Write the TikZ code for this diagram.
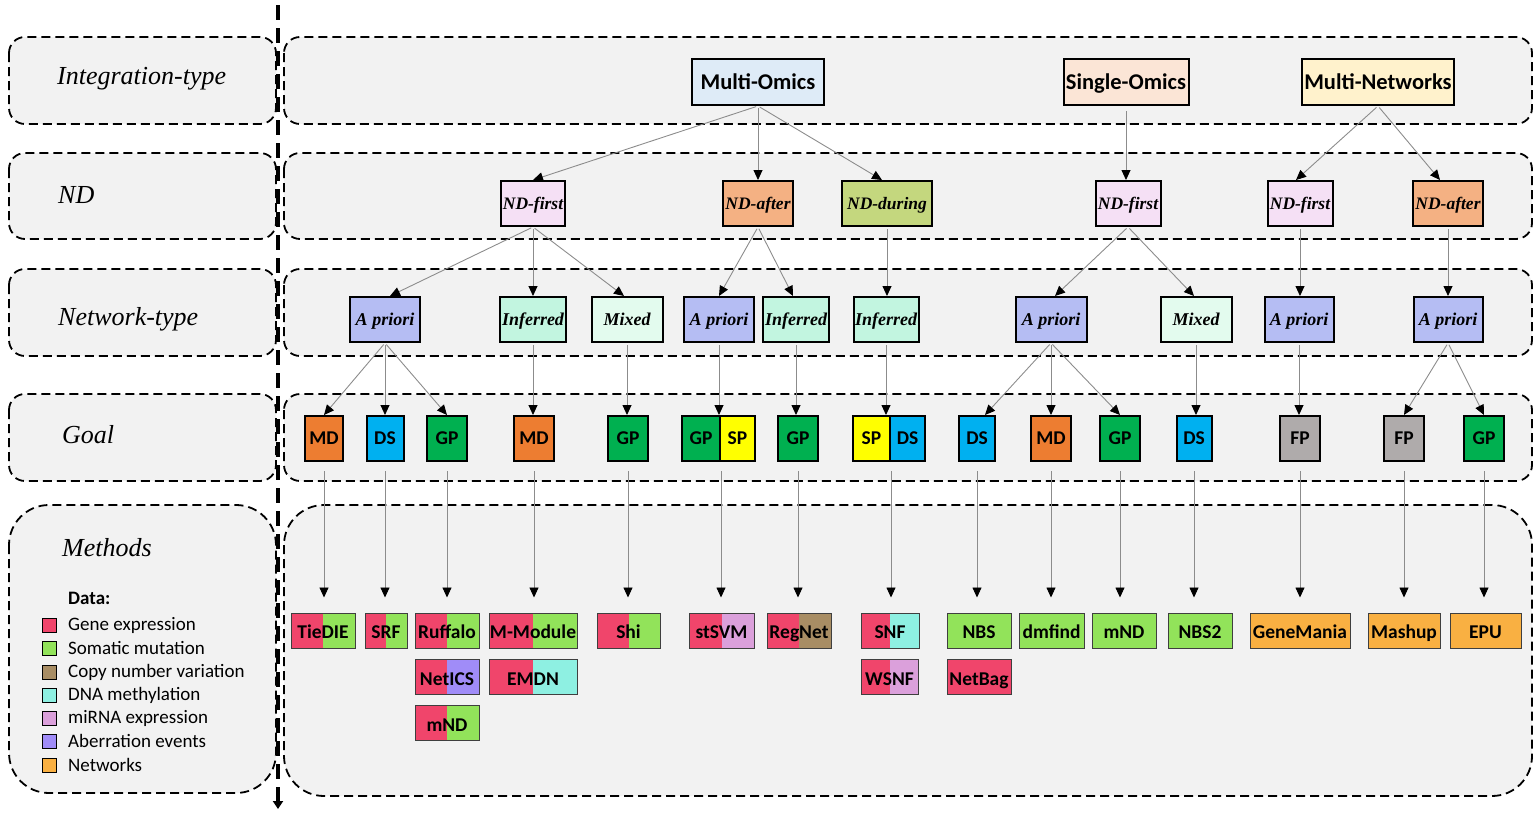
\documentclass[tikz,border=0pt]{standalone}
\usepackage{fontspec}
\newfontfamily\carlito{Carlito}
\newfontfamily\tnr{Liberation Serif}
\usetikzlibrary{arrows.meta}
\definecolor{bandgray}{HTML}{F2F2F2}
\definecolor{cMO}{HTML}{DEEBF7}
\definecolor{cSO}{HTML}{FBE5D6}
\definecolor{cMN}{HTML}{FFF2CC}
\definecolor{cNDf}{HTML}{F5E0F5}
\definecolor{cNDa}{HTML}{F4B183}
\definecolor{cNDd}{HTML}{C4D77E}
\definecolor{cApr}{HTML}{B5BDF3}
\definecolor{cInf}{HTML}{C2F5E0}
\definecolor{cMix}{HTML}{E3FBEE}
\definecolor{cMD}{HTML}{ED7D31}
\definecolor{cDS}{HTML}{00B0F0}
\definecolor{cGP}{HTML}{00B050}
\definecolor{cSP}{HTML}{FFFF00}
\definecolor{cFP}{HTML}{AFABAB}
\definecolor{cRed}{HTML}{F0456B}
\definecolor{cGrn}{HTML}{92E35A}
\definecolor{cBrn}{HTML}{A88D64}
\definecolor{cCyn}{HTML}{8EF0E2}
\definecolor{cPnk}{HTML}{DBA0DB}
\definecolor{cPur}{HTML}{A08CF8}
\definecolor{cOrg}{HTML}{F9B042}
\definecolor{cLine}{HTML}{8C8C8C}
\definecolor{cMB}{HTML}{3F3F3F}
\begin{document}
\begin{tikzpicture}[x=1pt,y=-1pt,
  band/.style={draw=black, dash pattern=on 9pt off 5pt, line width=1.8pt, fill=bandgray, rounded corners=16pt},
  bigband/.style={band, rounded corners=40pt},
  rowlab/.style={anchor=west, inner sep=0pt, font=\tnr\itshape\fontsize{26}{29}\selectfont},
  itype/.style={draw=black, line width=2pt, minimum height=46pt, inner sep=0pt, text height=14.4pt, text depth=0pt, font=\carlito\bfseries\fontsize{22.5}{26}\selectfont},
  ndbox/.style={draw=black, line width=2pt, minimum height=45pt, inner sep=0pt, text height=11.6pt, text depth=0pt, font=\tnr\bfseries\itshape\fontsize{17.5}{20}\selectfont},
  netbox/.style={draw=black, line width=2pt, minimum height=45pt, inner sep=0pt, text height=11.8pt, text depth=0pt, font=\tnr\bfseries\itshape\fontsize{18}{20}\selectfont},
  goalbox/.style={draw=black, line width=2pt, minimum height=45pt, inner sep=0pt, text height=12.6pt, text depth=0pt, font=\carlito\bfseries\fontsize{19.5}{22}\selectfont},
  meth/.style={draw=cMB, line width=1pt, minimum height=35pt, inner sep=0pt, text height=16pt, text depth=0pt, font=\carlito\bfseries\fontsize{19.5}{22}\selectfont},
  split/.style={meth, fill=#1, path picture={\fill[cRed] (path picture bounding box.south west) rectangle (path picture bounding box.north);}},
  legsq/.style={draw=black, line width=1pt, minimum size=14pt, inner sep=0pt},
  legtxt/.style={anchor=west, inner sep=0pt, font=\carlito\fontsize{19}{22}\selectfont},
  conn/.style={draw=cLine, line width=0.9pt, shorten <=2pt, -{Triangle[length=10pt,width=9pt,color=black]}},
  down/.style={conn, shorten <=9pt, shorten >=15pt}
]
\useasboundingbox (0,0) rectangle (1535,819);

% bands
\path[band] (9,37) rectangle (276,124);
\path[band] (284,37) rectangle (1532,124);
\path[band] (9,153) rectangle (276,239);
\path[band] (284,153) rectangle (1532,239);
\path[band] (9,269) rectangle (276,356);
\path[band] (284,269) rectangle (1532,356);
\path[band] (9,394) rectangle (276,481);
\path[band] (284,394) rectangle (1532,481);
\path[bigband] (9,505) rectangle (276,793);
\path[bigband] (284,505) rectangle (1532,796);

% vertical axis
\coordinate (vtop) at (278,5);
\coordinate (vbot) at (278,809);
\draw[line width=3.5pt, dash pattern=on 15pt off 8pt, -{Triangle[length=8pt,width=10pt]}] (vtop) -- (vbot);

% row labels
\node[rowlab] (l1) at (57,79) {Integration-type};
\node[rowlab] (l2) at (58,195) {ND};
\node[rowlab] (l3) at (58,319) {Network-type};
\node[rowlab] (l4) at (62,435) {Goal};
\node[rowlab] (l5) at (62,548) {Methods};

% legend
\node[legtxt, font=\carlito\bfseries\fontsize{19}{22}\selectfont] (dh) at (68,598) {Data:};
\node[legsq, fill=cRed] (s1) at (49,625) {};
\node[legtxt] (t1) at (68,625) {Gene expression};
\node[legsq, fill=cGrn] (s2) at (49,648) {};
\node[legtxt] (t2) at (68,648) {Somatic mutation};
\node[legsq, fill=cBrn] (s3) at (49,672) {};
\node[legtxt] (t3) at (68,672) {Copy number variation};
\node[legsq, fill=cCyn] (s4) at (49,695) {};
\node[legtxt] (t4) at (68,695) {DNA methylation};
\node[legsq, fill=cPnk] (s5) at (49,718) {};
\node[legtxt] (t5) at (68,718) {miRNA expression};
\node[legsq, fill=cPur] (s6) at (49,741) {};
\node[legtxt] (t6) at (68,741) {Aberration events};
\node[legsq, fill=cOrg] (s7) at (49,765) {};
\node[legtxt] (t7) at (68,765) {Networks};

% integration type
\node[itype, fill=cMO, minimum width=132pt] (mo) at (758,82) {Multi-Omics};
\node[itype, fill=cSO, minimum width=125pt] (so) at (1126,82) {Single-Omics};
\node[itype, fill=cMN, minimum width=152pt] (mn) at (1378,82) {Multi-Networks};

% ND
\node[ndbox, fill=cNDf, minimum width=64pt] (nd1) at (533,203.5) {ND-first};
\node[ndbox, fill=cNDa, minimum width=70pt] (nd2) at (758,203.5) {ND-after};
\node[ndbox, fill=cNDd, minimum width=90pt] (nd3) at (887,203.5) {ND-during};
\node[ndbox, fill=cNDf, minimum width=65pt] (nd4) at (1128,203.5) {ND-first};
\node[ndbox, fill=cNDf, minimum width=65pt] (nd5) at (1300,203.5) {ND-first};
\node[ndbox, fill=cNDa, minimum width=70pt] (nd6) at (1448,203.5) {ND-after};

% network type
\node[netbox, fill=cApr, minimum width=70pt] (n1) at (385,319.5) {A priori};
\node[netbox, fill=cInf, minimum width=66pt] (n2) at (533,319.5) {Inferred};
\node[netbox, fill=cMix, minimum width=71pt] (n3) at (627,319.5) {Mixed};
\node[netbox, fill=cApr, minimum width=70pt] (n4) at (719,319.5) {A priori};
\node[netbox, fill=cInf, minimum width=66pt] (n5) at (796,319.5) {Inferred};
\node[netbox, fill=cInf, minimum width=65pt] (n6) at (886,319.5) {Inferred};
\node[netbox, fill=cApr, minimum width=71pt] (n7) at (1051,319.5) {A priori};
\node[netbox, fill=cMix, minimum width=71pt] (n8) at (1196,319.5) {Mixed};
\node[netbox, fill=cApr, minimum width=69pt] (n9) at (1299,319.5) {A priori};
\node[netbox, fill=cApr, minimum width=69pt] (n10) at (1448,319.5) {A priori};

% goals
\node[goalbox, fill=cMD, minimum width=38pt] (g1) at (324,438.5) {MD};
\node[goalbox, fill=cDS, minimum width=37pt] (g2) at (385,438.5) {DS};
\node[goalbox, fill=cGP, minimum width=40pt] (g3) at (447,438.5) {GP};
\node[goalbox, fill=cMD, minimum width=40pt] (g4) at (534,438.5) {MD};
\node[goalbox, fill=cGP, minimum width=40pt] (g5) at (628,438.5) {GP};
\node[goalbox, fill=cGP, minimum width=38pt] (g6a) at (701,438.5) {GP};
\node[goalbox, fill=cSP, minimum width=35pt] (g6b) at (737.5,438.5) {SP};
\node[goalbox, fill=cGP, minimum width=40pt] (g7) at (798,438.5) {GP};
\node[goalbox, fill=cSP, minimum width=37pt] (g8a) at (871.5,438.5) {SP};
\node[goalbox, fill=cDS, minimum width=35pt] (g8b) at (907.5,438.5) {DS};
\node[goalbox, fill=cDS, minimum width=36pt] (g9) at (977,438.5) {DS};
\node[goalbox, fill=cMD, minimum width=40pt] (g10) at (1051,438.5) {MD};
\node[goalbox, fill=cGP, minimum width=40pt] (g11) at (1120,438.5) {GP};
\node[goalbox, fill=cDS, minimum width=35pt] (g12) at (1194,438.5) {DS};
\node[goalbox, fill=cFP, minimum width=40pt] (g13) at (1300,438.5) {FP};
\node[goalbox, fill=cFP, minimum width=40pt] (g14) at (1404,438.5) {FP};
\node[goalbox, fill=cGP, minimum width=40pt] (g15) at (1484,438.5) {GP};

% methods
\node[split=cGrn, minimum width=64pt] (m1) at (323,630.5) {TieDIE};
\node[split=cGrn, minimum width=42pt] (m2) at (386,630.5) {SRF};
\node[split=cGrn, minimum width=64pt] (m3) at (447,630.5) {Ruffalo};
\node[split=cGrn, minimum width=88pt] (m4) at (533,630.5) {M-Module};
\node[split=cGrn, minimum width=63pt] (m5) at (628.5,630.5) {Shi};
\node[split=cPnk, minimum width=65pt] (m6) at (721.5,630.5) {stSVM};
\node[split=cBrn, minimum width=64pt] (m7) at (799,630.5) {RegNet};
\node[split=cCyn, minimum width=58pt] (m8) at (890,630.5) {SNF};
\node[meth, fill=cGrn, minimum width=64pt] (m9) at (979,630.5) {NBS};
\node[meth, fill=cGrn, minimum width=65pt] (m10) at (1051.5,630.5) {dmfind};
\node[meth, fill=cGrn, minimum width=64pt] (m11) at (1124,630.5) {mND};
\node[meth, fill=cGrn, minimum width=64pt] (m12) at (1200,630.5) {NBS2};
\node[meth, fill=cOrg, minimum width=100pt] (m13) at (1300,630.5) {GeneMania};
\node[meth, fill=cOrg, minimum width=72pt] (m14) at (1404,630.5) {Mashup};
\node[meth, fill=cOrg, minimum width=71pt] (m15) at (1485.5,630.5) {EPU};
\node[split=cPur, minimum width=64pt] (m16) at (447,677) {NetICS};
\node[split=cCyn, minimum width=88pt] (m17) at (533,677) {EMDN};
\node[split=cPnk, minimum width=57pt] (m18) at (889.5,677) {WSNF};
\node[meth, fill=cRed, minimum width=64pt] (m19) at (979,677) {NetBag};
\node[split=cGrn, minimum width=64pt] (m20) at (447,723) {mND};

% connectors: integration -> ND
\draw[conn] (mo.south) -- (nd1.north);
\draw[conn] (mo.south) -- (nd2.north);
\draw[conn] (mo.south) -- ([xshift=-5pt]nd3.north);
\draw[conn, shorten <=5pt] (so.south) -- (so.south |- nd4.north);
\draw[conn] (mn.south) -- ([xshift=-4pt]nd5.north);
\draw[conn] (mn.south) -- ([xshift=-8pt]nd6.north);

% ND -> network
\draw[conn] (nd1.south) -- ([xshift=5pt]n1.north);
\draw[conn] (nd1.south) -- (n2.north);
\draw[conn] (nd1.south) -- ([xshift=-3pt]n3.north);
\draw[conn] (nd2.south) -- (n4.north);
\draw[conn] (nd2.south) -- ([xshift=-3pt]n5.north);
\draw[conn] (nd3.south) -- (nd3.south |- n6.north);
\draw[conn] (nd4.south) -- ([xshift=4pt]n7.north);
\draw[conn] (nd4.south) -- ([xshift=-2pt]n8.north);
\draw[conn] (nd5.south) -- (nd5.south |- n9.north);
\draw[conn] (nd6.south) -- (n10.north);

% network -> goal
\draw[conn] (n1.south) -- (g1.north);
\draw[conn] (n1.south) -- (g2.north);
\draw[conn] (n1.south) -- (g3.north);
\draw[conn] (n2.south) -- (n2.south |- g4.north);
\draw[conn] (n3.south) -- (n3.south |- g5.north);
\draw[conn] (n4.south) -- (n4.south |- g6a.north);
\draw[conn] (n5.south) -- (n5.south |- g7.north);
\draw[conn] (n6.south) -- (n6.south |- g8a.north);
\draw[conn] (n7.south) -- ([xshift=8pt]g9.north);
\draw[conn] (n7.south) -- (g10.north);
\draw[conn] (n7.south) -- (g11.north);
\draw[conn] (n8.south) -- (n8.south |- g12.north);
\draw[conn] (n9.south) -- (n9.south |- g13.north);
\draw[conn] (n10.south) -- (g14.north);
\draw[conn] (n10.south) -- (g15.north);

% goal -> methods
\draw[down] (g1.south) -- (g1.south |- m1.north);
\draw[down] (g2.south) -- (g2.south |- m2.north);
\draw[down] (g3.south) -- (g3.south |- m3.north);
\draw[down] (g4.south) -- (g4.south |- m4.north);
\draw[down] (g5.south) -- (g5.south |- m5.north);
\draw[down] (g6a.south east) -- (g6a.south east |- m6.north);
\draw[down] (g7.south) -- (g7.south |- m7.north);
\draw[down] (g8a.south east) -- (g8a.south east |- m8.north);
\draw[down] (g9.south) -- (g9.south |- m9.north);
\draw[down] (g10.south) -- (g10.south |- m10.north);
\draw[down] (g11.south) -- (g11.south |- m11.north);
\draw[down] (g12.south) -- (g12.south |- m12.north);
\draw[down] (g13.south) -- (g13.south |- m13.north);
\draw[down] (g14.south) -- (g14.south |- m14.north);
\draw[down] (g15.south) -- (g15.south |- m15.north);
\end{tikzpicture}
\end{document}
